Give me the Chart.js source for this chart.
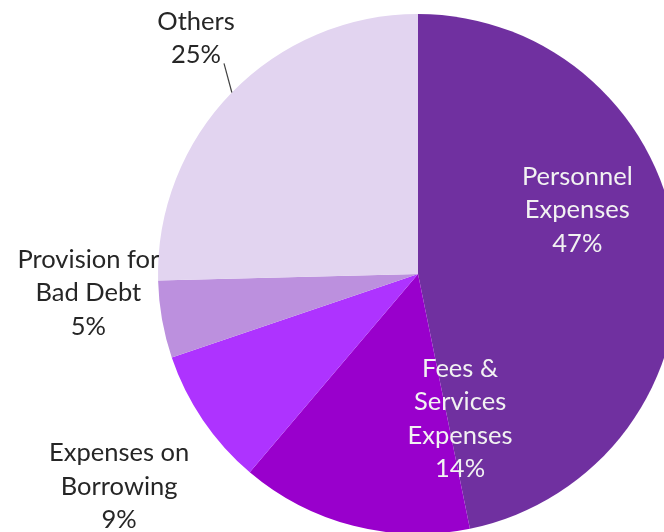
<!DOCTYPE html>
<html>
<head>
<meta charset="utf-8">
<script src="https://cdn.jsdelivr.net/npm/chart.js@4.4.1/dist/chart.umd.min.js"></script>
<style>
  html, body { margin: 0; padding: 0; background: #ffffff; overflow: hidden; width: 664px; height: 532px; }
  #c { position: absolute; left: 0; top: 0; }
</style>
</head>
<body>
<canvas id="c" width="700" height="560"></canvas>
<script>
// ---- Data ----
const categories = [
  ["Personnel", "Expenses"],
  ["Fees &", "Services", "Expenses"],
  ["Expenses on", "Borrowing"],
  ["Provision for", "Bad Debt"],
  ["Others"]
];
const values = [46.8, 14.4, 8.6, 4.8, 25.4];
const sliceColors = ["#7030A0", "#9900CC", "#AE33FF", "#BC90DE", "#E2D4F0"];

// ---- Label placement (style) : angle in degrees (canvas coords), radius as fraction of pie radius ----
const labelPlacement = [
  { angle: -21.8, r: 0.66, color: "#F2F2F2" },
  { angle: 73.8,  r: 0.58, color: "#F2F2F2" },
  { angle: 144.6, r: 1.41, color: "#262626" },
  { angle: 176.7, r: 1.27, color: "#262626" },
  { angle: 226.7, r: 1.245, color: "#262626", leader: { dx: 28, dy: 25 } }
];

const FONT_SIZE = 25.5;
const LINE_H = 33.5;
const FONT = FONT_SIZE + "px Lato, 'Open Sans', sans-serif";

const labelPlugin = {
  id: "pieLabels",
  afterDraw(chart) {
    const ctx = chart.ctx;
    const meta = chart.getDatasetMeta(0);
    const total = values.reduce((a, b) => a + b, 0);
    ctx.save();
    ctx.font = FONT;
    ctx.textAlign = "center";
    ctx.textBaseline = "middle";
    meta.data.forEach((arc, i) => {
      const p = labelPlacement[i];
      const cx = arc.x, cy = arc.y, R = arc.outerRadius;
      const a = p.angle * Math.PI / 180;
      const x = cx + Math.cos(a) * R * p.r;
      const y = cy + Math.sin(a) * R * p.r;
      const lines = categories[i].concat([Math.round(values[i] / total * 100) + "%"]);
      const top = y - (lines.length - 1) * LINE_H / 2;
      ctx.fillStyle = p.color;
      lines.forEach((t, k) => ctx.fillText(t, x, top + k * LINE_H));
      if (p.leader) {
        const mid = (arc.startAngle + arc.endAngle) / 2;
        ctx.strokeStyle = "#404040";
        ctx.lineWidth = 1.2;
        ctx.beginPath();
        ctx.moveTo(x + p.leader.dx, y + p.leader.dy);
        ctx.lineTo(cx + Math.cos(mid) * R, cy + Math.sin(mid) * R);
        ctx.stroke();
      }
    });
    ctx.restore();
  }
};

new Chart(document.getElementById("c"), {
  type: "pie",
  data: {
    labels: categories.map(c => c.join(" ")),
    datasets: [{
      data: values,
      backgroundColor: sliceColors,
      borderWidth: 0
    }]
  },
  options: {
    responsive: false,
    animation: false,
    devicePixelRatio: 1,
    layout: { padding: { left: 158, top: 14, right: 22, bottom: 26 } },
    plugins: { legend: { display: false }, tooltip: { enabled: false } }
  },
  plugins: [labelPlugin]
});
</script>
</body>
</html>
